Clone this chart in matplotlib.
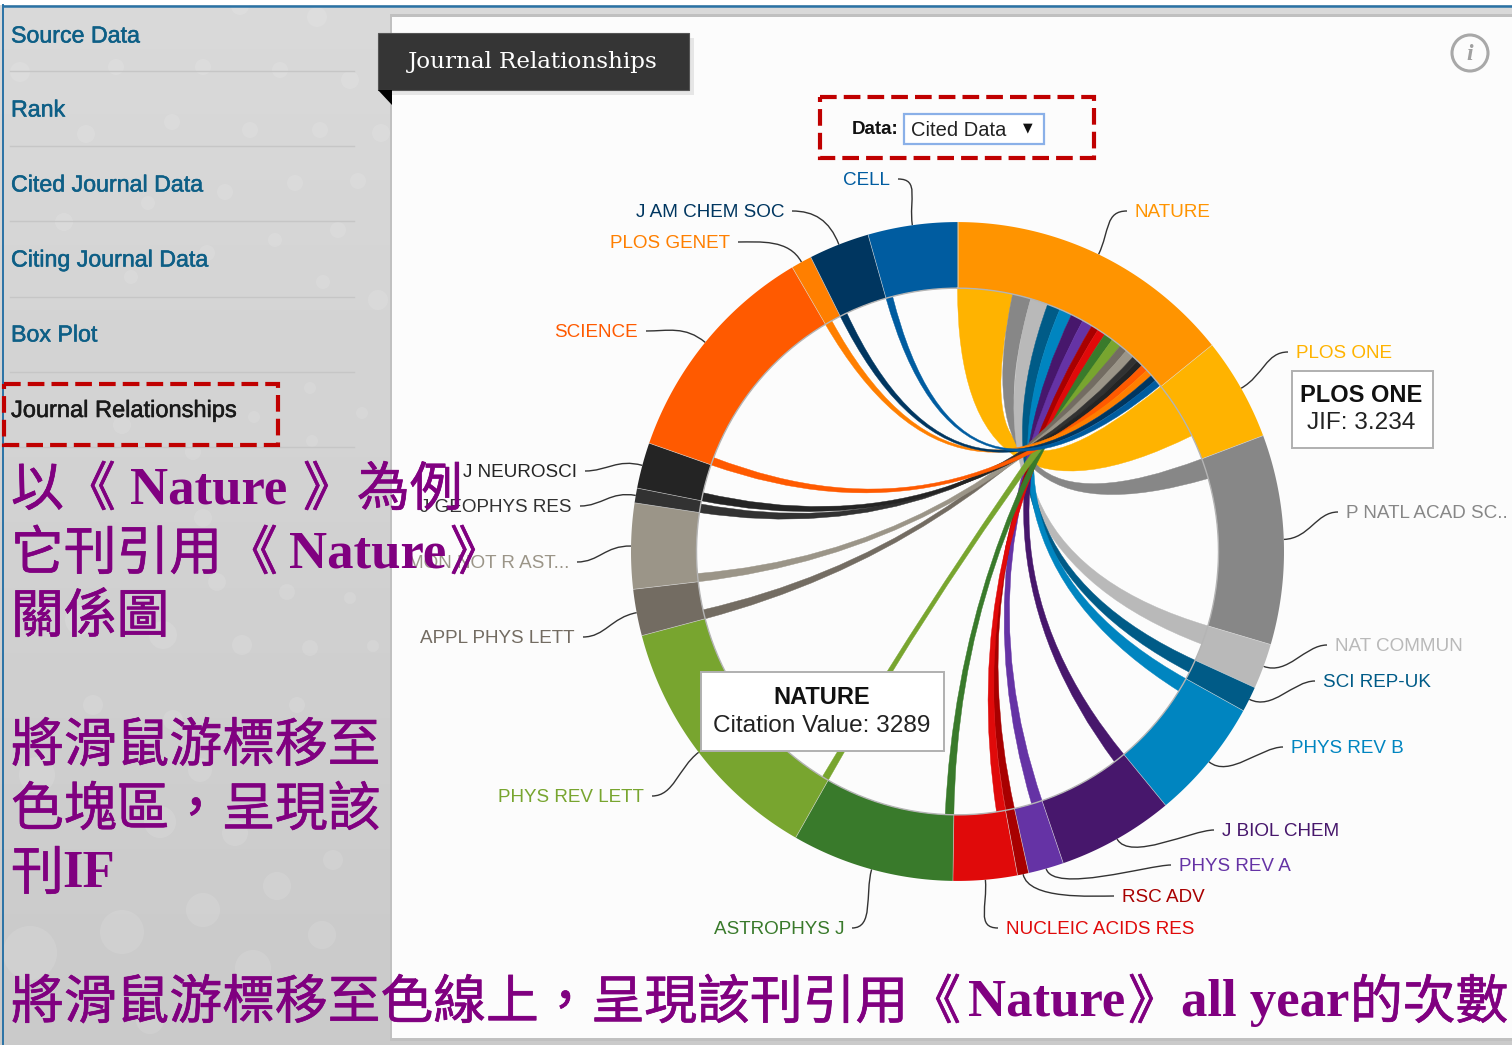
import numpy as np
import matplotlib
matplotlib.use("Agg")
import matplotlib.pyplot as plt
import matplotlib.patheffects as pe
from matplotlib.path import Path
from matplotlib.patches import PathPatch, Rectangle, Circle, Polygon

journals = ["NATURE", "PLOS ONE", "P NATL ACAD SC..", "NAT COMMUN", "SCI REP-UK", "PHYS REV B",
            "J BIOL CHEM", "PHYS REV A", "RSC ADV", "NUCLEIC ACIDS RES", "ASTROPHYS J", "PHYS REV LETT",
            "APPL PHYS LETT", "MON NOT R AST...", "J GEOPHYS RES", "J NEUROSCI", "SCIENCE", "PLOS GENET",
            "J AM CHEM SOC", "CELL"]
arc_share = [51.2, 18.2, 37.0, 8.0, 4.5, 21.5, 20.7, 6.3, 2.0, 11.4, 28.9, 45.5, 8.2, 15.1, 2.6, 8.1,
             40.4, 3.7, 10.8, 15.9]
nature_side = [12.2, 4.1, 3.9, 2.9, 2.8, 2.8, 2.3, 1.6, 1.8, 2.0, 2.2, 1.7, 2.0, 1.3, 1.4, 1.5, 1.5, 1.4, 1.5]
partner_side = [12.7, 4.5, 4.2, 2.9, 3.1, 2.6, 2.4, 1.9, 2.0, 1.9, 1.5, 2.0, 1.8, 1.9, 1.8, 1.7, 1.6, 1.6, 1.5]
colors = ["#FF9400", "#FFB300", "#878787", "#B9B9B9", "#005B87", "#0085C0", "#47176C", "#6533A5", "#A80000",
          "#E00A0A", "#397A2B", "#78A52F", "#736C62", "#9B9588", "#323232", "#242424", "#FF5A00", "#FF7F00",
          "#003660", "#005CA0"]
label_ends = [(1127, 211), (1288, 352), (1338, 512), (1327, 645), (1315, 681), (1283, 747), (1214, 830),
              (1171, 865), (1114, 896), (998, 928), (852, 928), (652, 796), (583, 637), (577, 562), (580, 506),
              (585, 471), (646, 331), (738, 242), (792, 211), (898, 179)]
menu_items = ["Source Data", "Rank", "Cited Journal Data", "Citing Journal Data", "Box Plot", "Journal Relationships"]
menu_y = [35, 109, 184, 259, 334, 410]
sep_y = [71, 146, 221, 297, 372, 447]
# note segments: (left x, line centre y, text, is_latin)
note_segments = [
    (11, 487, "以", False), (63, 487, "《", False), (130, 487, "Nature", True), (303, 487, "》", False), (357, 487, "為例", False),
    (11, 551, "它刊引用", False), (225, 551, "《", False), (289, 551, "Nature", True), (450, 551, "》", False),
    (11, 614, "關係圖", False),
    (11, 743, "將滑鼠游標移至", False),
    (11, 807, "色塊區，呈現該", False),
    (11, 871, "刊", False), (62, 871, "IF", True),
    (11, 1000, "將滑鼠游標移至色線上，呈現該刊引用《", False), (968, 1000, "Nature", True), (1128, 1000, "》", False),
    (1181, 1000, "all year", True), (1350, 1000, "的次數", False),
]
dots = [(240, 6, 9), (317, 17, 10), (20, 72, 10), (116, 67, 8), (203, 67, 8), (280, 70, 8), (350, 80, 9),
        (172, 122, 8), (86, 134, 9), (250, 130, 8), (320, 130, 8), (381, 133, 9), (358, 181, 8), (295, 183, 8),
        (225, 192, 8), (148, 203, 7), (64, 222, 9), (338, 230, 8), (275, 240, 7), (207, 253, 8), (131, 277, 7),
        (323, 282, 7), (378, 300, 10), (310, 388, 6), (362, 413, 6), (254, 417, 6), (122, 425, 9), (312, 441, 6),
        (193, 452, 8), (203, 518, 9), (217, 582, 9), (287, 592, 8), (350, 598, 6), (242, 645, 10), (310, 648, 8),
        (373, 646, 6), (163, 635, 14), (80, 620, 15), (160, 822, 16), (235, 833, 13), (277, 886, 14),
        (203, 910, 17), (122, 932, 22), (30, 953, 27), (322, 935, 14), (253, 968, 18), (333, 860, 10),
        (37, 775, 18), (200, 770, 12), (173, 720, 10), (93, 705, 10), (297, 705, 8), (150, 1020, 14)]

plt.rcParams['font.family'] = ['Liberation Sans', 'DejaVu Sans']
fig = plt.figure(figsize=(15.12, 10.45), dpi=100, facecolor="#d0d0d0")
ax = fig.add_axes([0, 0, 1, 1])

# page background
ax.imshow(np.linspace(0.85, 0.79, 64).reshape(-1, 1), extent=(0, 1512, 1045, 0), cmap="gray", vmin=0, vmax=1,
          aspect="auto", zorder=0)
ax.set_xlim(0, 1512)
ax.set_ylim(1045, 0)
ax.axis("off")
for (x, y, r) in dots:
    ax.add_patch(Circle((x, y), r, fc="white", alpha=0.11, ec="none", zorder=1))
ax.add_patch(Rectangle((0, 0), 1512, 5, fc="white", ec="none", zorder=1))
ax.plot([3, 1512], [5.5, 5.5], color="#2a72a5", lw=1.8, zorder=2)
ax.plot([3, 3], [5, 1045], color="#2a72a5", lw=1.4, zorder=2)
ax.add_patch(Rectangle((390, 14), 1122, 1027, fc="#c0c0c0", ec="none", zorder=2))
ax.add_patch(Rectangle((392, 17), 1120, 1021, fc="#fcfcfc", ec="none", zorder=3))

# side menu
for i, (t, y) in enumerate(zip(menu_items, menu_y)):
    col = "#1a1a1a" if i == 5 else "#0e5f86"
    ax.text(11, y + 1, t, fontsize=17.0 if i == 5 else 16.7, color=col, va="center", ha="left", zorder=4,
            path_effects=[pe.withStroke(linewidth=0.4, foreground=col)])
for y in sep_y:
    ax.plot([10, 354], [y, y], color="#c6c6c6", lw=1.0, zorder=4)

# banner
ax.add_patch(Rectangle((383, 38), 311, 57, fc="#e6e6e6", ec="none", zorder=4))
ax.add_patch(Rectangle((378, 33), 311, 57, fc="#353535", ec="#555555", lw=0.8, zorder=5))
ax.add_patch(Polygon([(378, 90), (392, 90), (392, 105)], fc="black", ec="none", zorder=5))
ax.text(533, 62, "Journal Relationships", fontsize=16.6, family="DejaVu Serif", color="white",
        ha="center", va="center", zorder=6)

# info icon
ax.add_patch(Circle((1470, 53), 18, fc="none", ec="#a8a8a8", lw=2.2, zorder=4))
ax.text(1470, 54, "i", fontsize=17, family="Liberation Serif", style="italic", weight="bold",
        color="#a0a0a0", ha="center", va="center", zorder=4)

# data selector
ax.text(875, 130, "Data:", fontsize=13.5, weight="bold", color="#111111", ha="center", va="center", zorder=5)
ax.add_patch(Rectangle((904, 114), 140, 30, fc="white", ec="#8ab0e8", lw=1.6, zorder=4))
ax.text(911, 130, "Cited Data", fontsize=14.5, color="#222222", ha="left", va="center", zorder=5)
ax.text(1028, 128, "▼", fontsize=9, family="DejaVu Sans", color="#111111", ha="center", va="center", zorder=5)
for (x0, y0, x1, y1) in [(820, 97, 1094, 158), (4, 384, 278, 445)]:
    ax.add_patch(Rectangle((x0, y0), x1 - x0, y1 - y0, fc="none", ec="#c00000", lw=3, ls=(0, (4, 1.7)), zorder=8))

# chord geometry (the screenshot is stretched a little vertically)
cx, cy, R_out, R_in, stretch = 957.5, 551.5, 326.5, 261.0, 1.009


def pt(deg, r):
    a = np.radians(deg)
    return np.array([cx + r * np.sin(a), cy - stretch * r * np.cos(a)])


def arc_pts(a0, a1, r):
    n = max(int(abs(a1 - a0) * 1.5), 2)
    return [pt(a, r) for a in np.linspace(a0, a1, n)]


edges = np.concatenate([[0], np.cumsum(arc_share)])
center = np.array([cx, cy])
mids = (edges[:-1] + edges[1:]) / 2

# ribbons
nat = 0.0
for k in range(1, len(journals)):
    a0, a1 = nat, nat + nature_side[k - 1]
    b0, b1 = edges[k], edges[k] + partner_side[k - 1]
    nat = a1
    verts = arc_pts(a0, a1, R_in)
    codes = [Path.MOVETO] + [Path.LINETO] * (len(verts) - 1)
    verts += [center, pt(b0, R_in)]
    codes += [Path.CURVE3, Path.CURVE3]
    tail = arc_pts(b0, b1, R_in)[1:]
    verts += tail
    codes += [Path.LINETO] * len(tail)
    verts += [center, pt(a0, R_in), pt(a0, R_in)]
    codes += [Path.CURVE3, Path.CURVE3, Path.CLOSEPOLY]
    ax.add_patch(PathPatch(Path(verts, codes), fc=colors[k], ec=colors[k], lw=0.3, zorder=5))

# outer ring
for k in range(len(journals)):
    verts = arc_pts(edges[k], edges[k + 1], R_out) + arc_pts(edges[k + 1], edges[k], R_in)
    ax.add_patch(Polygon(verts, closed=True, fc=colors[k], ec="none", zorder=6))
    ax.plot(*zip(*[pt(edges[k], R_in), pt(edges[k], R_out)]), color="#d8d8d8", lw=0.5, alpha=0.7, zorder=6)
ring = arc_pts(0, 360, R_in)
ax.plot(*zip(*ring), color="#b4b4b4", lw=1.0, zorder=6)

# leaders and labels
for k, name in enumerate(journals):
    p0 = pt(mids[k], R_out)
    p1 = pt(mids[k], R_out + 26)
    end = np.array(label_ends[k], dtype=float)
    side = 1 if end[0] > p0[0] else -1
    p2 = end - np.array([side * 22, 0])
    lp = Path([p0, p1, p2, end], [Path.MOVETO, Path.CURVE4, Path.CURVE4, Path.CURVE4])
    ax.add_patch(PathPatch(lp, fc="none", ec="#333333", lw=1.0, zorder=5))
    ha = "left" if side > 0 else "right"
    ax.text(end[0] + side * 8, end[1] + 1.5, name, fontsize=13.6, color=colors[k], ha=ha, va="center", zorder=5)

# tooltips
for (x0, y0, x1, y1, head, body, bx) in [(701, 672, 944, 751, "NATURE", "Citation Value: 3289", 822),
                                         (1292, 371, 1433, 448, "PLOS ONE", "JIF: 3.234", 1361)]:
    ax.add_patch(Rectangle((x0, y0), x1 - x0, y1 - y0, fc="white", ec="#b0b0b0", lw=1.4, zorder=7))
    ax.text(bx, y0 + 25, head, fontsize=17, weight="bold", color="#111111", ha="center", va="center", zorder=7)
    ax.text(bx, y0 + 54 if head == "NATURE" else y0 + 52, body, fontsize=17.6, color="#222222", ha="center",
            va="center", zorder=7)

# overlay notes
for (x, y, t, latin) in note_segments:
    if latin:
        ax.text(x, y + 3, t, fontsize=38, weight="bold", family="Liberation Serif", color="#800080",
                ha="left", va="center", zorder=9)
    else:
        ax.text(x, y + 3, t, fontsize=38, family="Noto Sans CJK TC", color="#800080", ha="left", va="center", zorder=9,
                path_effects=[pe.withStroke(linewidth=0.5, foreground="#800080")])

fig.savefig("out.png", dpi=100, facecolor=fig.get_facecolor())
